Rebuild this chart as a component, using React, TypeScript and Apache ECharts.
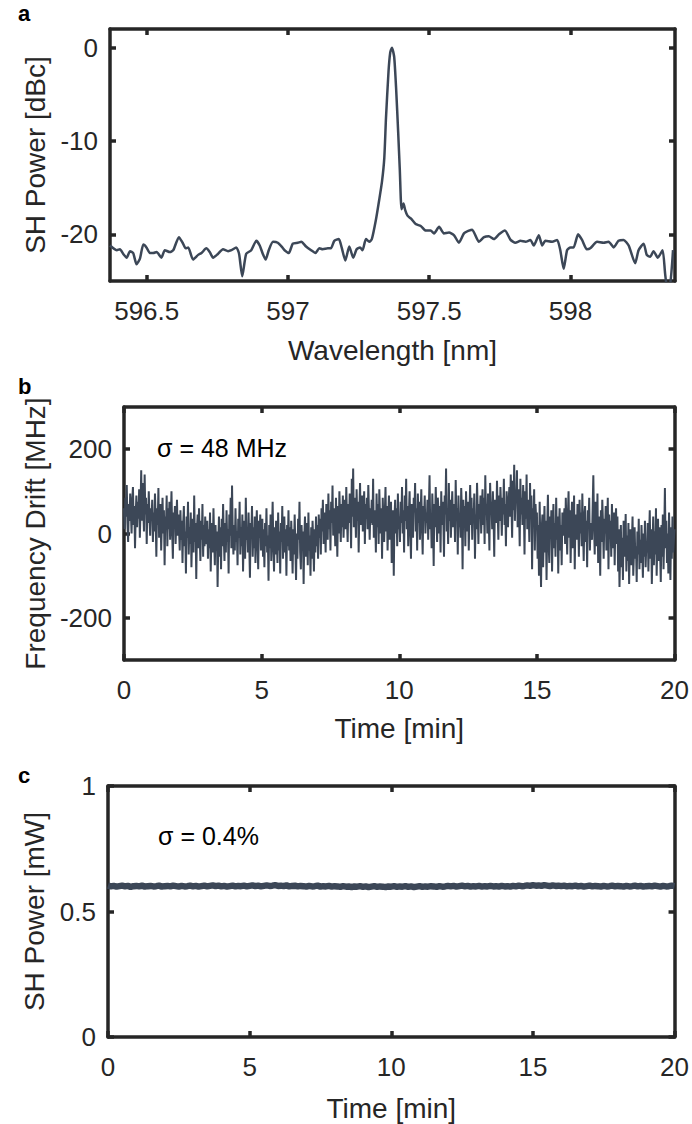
import React, { useEffect, useRef } from "react";
import * as echarts from "echarts";

// ---------- Panel a: SH spectrum ----------
const wavelengthNm = [
  596.370, 596.382, 596.394, 596.405, 596.417, 596.429, 596.441, 596.452, 596.464, 596.476,
  596.488, 596.499, 596.511, 596.523, 596.535, 596.552, 596.564, 596.582, 596.594, 596.614,
  596.627, 596.638, 596.647, 596.664, 596.682, 596.694, 596.711, 596.723, 596.735, 596.752,
  596.770, 596.788, 596.800, 596.817, 596.827, 596.838, 596.852, 596.870, 596.888, 596.900,
  596.911, 596.921, 596.932, 596.947, 596.964, 596.980, 596.988, 597.003, 597.017, 597.035,
  597.047, 597.064, 597.082, 597.097, 597.111, 597.123, 597.141, 597.152, 597.164, 597.180,
  597.190, 597.203, 597.217, 597.231, 597.243, 597.255, 597.264, 597.276, 597.288, 597.297,
  597.311, 597.323, 597.333, 597.341, 597.347, 597.356, 597.362, 597.368, 597.376, 597.383,
  597.390, 597.396, 597.402, 597.409, 597.415, 597.423, 597.435, 597.452, 597.470, 597.488,
  597.505, 597.517, 597.535, 597.552, 597.570, 597.588, 597.605, 597.623, 597.641, 597.652,
  597.676, 597.694, 597.711, 597.729, 597.747, 597.768, 597.788, 597.805, 597.823, 597.841,
  597.858, 597.870, 597.888, 597.900, 597.911, 597.935, 597.953, 597.964, 597.976, 597.988,
  598.000, 598.011, 598.027, 598.041, 598.058, 598.070, 598.094, 598.117, 598.135, 598.153,
  598.170, 598.188, 598.206, 598.229, 598.241, 598.259, 598.270, 598.282, 598.294, 598.309,
  598.326, 598.335, 598.342, 598.353, 598.363,
];
const shPowerDbc = [
  -21.2, -21.5, -21.7, -21.6, -22.1, -22.5, -21.8, -22.0, -23.2, -22.6,
  -21.1, -21.4, -22.0, -22.0, -21.9, -22.5, -21.7, -21.9, -21.7, -20.3,
  -20.9, -21.5, -21.4, -22.7, -22.2, -22.0, -21.5, -21.9, -22.5, -22.1,
  -21.6, -21.8, -21.7, -21.4, -22.1, -24.5, -22.1, -21.7, -20.7, -21.2,
  -22.1, -22.7, -21.7, -20.8, -20.9, -21.4, -21.7, -22.0, -21.0, -20.9,
  -20.8, -21.3, -21.7, -22.0, -21.5, -21.6, -21.5, -21.5, -20.7, -20.5,
  -21.4, -22.8, -21.3, -22.5, -21.6, -21.4, -21.7, -20.5, -20.8, -20.5,
  -18.5, -16.3, -14.3, -11.8, -7.5, -2.5, -0.5, 0.0, -1.0, -4.5,
  -9.0, -13.2, -17.3, -16.7, -17.4, -18.0, -18.3, -18.9, -19.1, -19.6,
  -19.6, -19.9, -19.2, -19.9, -19.8, -20.1, -20.9, -19.9, -19.6, -19.5,
  -20.8, -20.3, -20.2, -20.5, -20.0, -19.6, -20.6, -20.9, -20.7, -20.8,
  -20.6, -21.2, -20.1, -21.2, -20.7, -20.8, -20.6, -21.7, -23.7, -21.7,
  -21.4, -21.4, -20.0, -20.6, -21.6, -21.5, -20.8, -20.9, -20.8, -21.4,
  -20.7, -20.6, -21.2, -23.1, -21.7, -21.0, -22.2, -22.4, -21.8, -22.5,
  -21.7, -24.2, -25.6, -25.3, -21.7,
];
const wavelengthTicks = [596.5, 597, 597.5, 598];
const dbcTicks = [-20, -10, 0];

// ---------- Panel b: frequency drift (sampled every 0.025 min) ----------
const driftStepMin = 0.025;
const frequencyDriftMHz = [
  60, 10, 85, 40, 115, 25, -20, 70, 30, 95, 50, 0, 80, 110, 20, 65, -35, 45, 90, 15,
  75, 35, 105, -10, 55, 150, 30, 120, 60, 5, 140, 45, 85, -25, 70, 25, 100, 40, -5, 60,
  30, 80, -20, 50, 5, 95, 35, -55, 60, 20, 108, -10, 45, 70, -40, 25, 85, 0, 55, -75,
  40, 15, 90, -30, 60, 10, 75, -15, 35, 100, 5, -60, 50, 20, 65, -25, 30, 80, -5, 45,
  10, -40, 55, -15, 30, -70, 20, 65, -30, 5, -95, 40, -10, 75, -50, 15, -25, 50, -80, 0,
  35, -45, 90, -20, 25, -108, 10, 45, -35, 60, -5, -65, 30, -15, 70, -55, 20, -30, 40, -10,
  -25, 30, -60, 10, -35, 50, -90, -5, 25, -45, 60, -15, -75, 20, -40, 5, -127, -20, 40, -55,
  15, -85, 35, -30, 70, -10, -65, 25, -45, 55, -20, 10, -95, 45, -5, 85, -35, 114, 0, -50,
  20, -40, 60, -20, 5, -75, 35, -10, 75, -50, 15, -30, 45, -90, 0, 30, -60, 85, -15, 10,
  -45, 50, -25, -105, 25, -5, 65, -55, 15, -35, 40, -70, 5, 55, -20, -85, 30, -10, 45, -40,
  -15, 35, -55, 10, -80, 25, -30, 60, -45, -5, -112, 20, -35, 45, -65, 0, 75, -25, -90, 15,
  -50, 30, -10, -70, 50, -40, 5, -95, 25, -20, 65, -60, -5, 40, -45, 10, -100, 20, -30, 55,
  -40, 15, -65, 30, -20, -95, 10, -50, 45, -30, -110, 0, -60, 35, -15, 75, -45, -85, 20, -35,
  5, -120, -10, 40, -55, -25, 25, -75, 50, -40, -5, -100, 15, -60, 30, -20, -90, 10, -45, 40,
  -30, 20, -60, 45, -10, 35, -50, 60, 5, 80, -25, 50, 15, -45, 70, 30, -15, 95, 10, 55,
  -40, 75, 25, 114, -5, 60, 35, -30, 85, 20, -55, 65, 0, 100, 40, -20, 70, 15, 90, -10,
  45, 80, 10, 110, 35, -20, 70, 25, 95, 55, -35, 130, 40, 154, 15, 85, 60, -10, 105, 30,
  75, -45, 50, 120, 20, 65, 90, 5, 45, 100, -25, 70, 35, 85, 10, 115, 50, -15, 60, 25,
  80, 20, 130, -10, 55, 35, -45, 95, 15, 70, -25, 105, 40, 0, 60, -60, 85, 25, -20, 50,
  110, 5, 65, -40, 30, 90, -15, 45, 75, -70, 20, 55, -100, 35, 80, 0, 60, -30, 95, 10,
  40, -20, 75, 25, 110, 0, 55, -45, 90, 30, 130, 10, 65, -30, 45, 100, 15, -60, 70, 35,
  -10, 85, 50, 120, 5, 60, -40, 95, 25, 75, -15, 40, 105, 20, -50, 65, 30, 90, 0, 50,
  25, 80, -15, 60, 138, 10, 45, -35, 95, 30, -77, 70, 15, 110, 40, -20, 85, 55, 0, 65,
  -45, 100, 20, 75, 35, -55, 90, 45, 154, 5, 60, -25, 120, 30, 80, -10, 50, 100, 15, 40,
  70, -20, 127, 35, 60, -50, 90, 15, 45, -10, 108, 55, -85, 80, 25, 65, -30, 100, 40, 5,
  75, -40, 50, 115, 20, 85, -15, 60, 30, 95, -60, 45, 10, 120, 55, -25, 70, 35, 90, 0,
  60, 105, 20, 85, -25, 138, 45, 70, 0, 95, 35, -40, 120, 55, 75, 10, 100, 40, -55, 80,
  65, 25, 125, 50, -15, 90, 30, 110, 60, -5, 85, 45, 130, 20, 70, -30, 100, 55, 15, 80,
  110, 40, 140, 70, -10, 125, 55, 163, 30, 95, 75, 150, 15, 105, 60, -30, 130, 45, 85, 20,
  115, 65, -50, 100, 35, 140, 10, 80, 55, -20, 120, 40, 90, -85, 60, 25, 105, -40, 70, 30,
  50, -60, 20, -100, 75, -30, -127, 10, 45, -80, 0, 65, -45, 30, -110, 15, 92, -20, -70, 40,
  -10, 55, -90, 5, 70, -35, 25, -55, 85, -15, 40, -95, 10, 60, -40, 20, -75, 50, -5, 30,
  60, -25, 85, 15, -50, 40, 100, -10, 55, -70, 25, 75, -35, 5, 90, -85, 45, 20, -15, 70,
  35, -55, 80, 0, 50, -30, 95, 10, -65, 40, 65, -20, 30, -80, 55, 15, 85, -40, 25, 5,
  -15, 60, 138, 20, -50, 75, 5, -30, 95, -70, 40, 10, -100, 55, -20, 80, 25, -60, 35, 0,
  65, -40, 15, 85, -85, 45, -10, 30, -55, 70, 5, -35, 50, -75, 20, 60, -25, 40, -90, 10,
  -127, -40, 20, -80, -10, -110, 30, -55, -25, 46, -90, -5, -65, 25, -120, -35, 10, -75, -20, 40,
  -100, -45, 15, -60, -30, -115, 5, -50, 35, -85, -15, -70, 20, -40, -105, 0, -55, 30, -80, -25,
  -45, 25, -90, -10, 55, -60, 10, -120, -30, 40, -75, 5, -50, 60, -100, -20, 35, -65, 15, -40,
  -115, 20, -55, 45, -85, -5, 108, -35, 30, -70, 0, -95, 50, -25, -110, 15, -60, 40, -45, -15,
  10,
];
const driftTicks = [-200, 0, 200];

// ---------- Panel c: SH power (sampled every 0.1 min) ----------
const powerStepMin = 0.1;
const shPowerMw = [
  0.603, 0.600, 0.602, 0.599, 0.601, 0.603, 0.600, 0.602, 0.598, 0.601, 0.602, 0.600, 0.603, 0.599, 0.601, 0.602, 0.600, 0.601, 0.603, 0.599, 0.601,
  0.602, 0.600, 0.603, 0.601, 0.599, 0.602, 0.600, 0.601, 0.603, 0.600, 0.602, 0.599, 0.601, 0.603, 0.600, 0.602, 0.604, 0.601, 0.603, 0.600,
  0.602, 0.599, 0.601, 0.603, 0.600, 0.602, 0.601, 0.603, 0.600, 0.602, 0.604, 0.601, 0.603, 0.600, 0.602, 0.604, 0.602, 0.603, 0.605, 0.602,
  0.603, 0.601, 0.604, 0.600, 0.602, 0.603, 0.600, 0.602, 0.601, 0.599, 0.602, 0.600, 0.601, 0.603, 0.599, 0.601, 0.600, 0.602, 0.599, 0.601,
  0.600, 0.598, 0.601, 0.599, 0.600, 0.597, 0.600, 0.599, 0.601, 0.598, 0.600, 0.597, 0.599, 0.601, 0.598, 0.600, 0.599, 0.597, 0.600, 0.599,
  0.601, 0.598, 0.600, 0.599, 0.601, 0.598, 0.600, 0.597, 0.599, 0.601, 0.598, 0.600, 0.599, 0.601, 0.600, 0.598, 0.601, 0.599, 0.600, 0.602,
  0.600, 0.602, 0.599, 0.601, 0.603, 0.600, 0.602, 0.599, 0.601, 0.600, 0.602, 0.599, 0.601, 0.600, 0.602, 0.600, 0.601, 0.599, 0.602, 0.600,
  0.601, 0.599, 0.602, 0.600, 0.603, 0.601, 0.602, 0.604, 0.602, 0.605, 0.603, 0.604, 0.602, 0.605, 0.603, 0.601, 0.604, 0.602, 0.603, 0.601,
  0.603, 0.600, 0.602, 0.601, 0.603, 0.600, 0.602, 0.599, 0.601, 0.603, 0.600, 0.602, 0.601, 0.599, 0.602, 0.600, 0.601, 0.603, 0.600, 0.602,
  0.601, 0.599, 0.602, 0.600, 0.601, 0.603, 0.600, 0.602, 0.599, 0.601, 0.602, 0.600, 0.603, 0.601, 0.599, 0.602, 0.600, 0.601, 0.603, 0.601,
];

const LINE = "#3c4757";
const FRAME = "#262626";
const FONT = "'Liberation Sans', Arial, Helvetica, sans-serif";

export default function App() {
  const ref = useRef<HTMLDivElement>(null);

  useEffect(() => {
    if (!ref.current) return;
    const chart = echarts.init(ref.current, null, { renderer: "svg" });

    const frameLine = { show: true, onZero: false, lineStyle: { color: FRAME, width: 3.5 } };
    const tick = (vals?: number[]) => ({
      show: true,
      inside: true,
      length: 6,
      lineStyle: { color: FRAME, width: 3.5 },
      ...(vals ? { customValues: vals } : {}),
    });
    const label = (margin: number, vals?: number[]) => ({
      show: true,
      color: FRAME,
      fontSize: 26,
      fontFamily: FONT,
      margin,
      ...(vals ? { customValues: vals } : {}),
    });
    const nameStyle = { color: FRAME, fontSize: 28, fontFamily: FONT };

    const grids = [
      { left: 110, top: 29, width: 565, height: 252 },
      { left: 124, top: 407, width: 551, height: 253 },
      { left: 108, top: 786, width: 567, height: 251 },
    ];

    const xAxes: any[] = [];
    const yAxes: any[] = [];
    const specs = [
      {
        xmin: 596.37, xmax: 598.37, xticks: wavelengthTicks, xint: undefined,
        ymin: -25, ymax: 2, yticks: dbcTicks, yint: undefined,
        xname: "Wavelength [nm]", yname: "SH Power [dBc]", xGap: 55, yGap: 61, xMargin: 17, yMargin: 12,
      },
      {
        xmin: 0, xmax: 20, xticks: undefined, xint: 5,
        ymin: -300, ymax: 300, yticks: driftTicks, yint: undefined,
        xname: "Time [min]", yname: "Frequency Drift [MHz]", xGap: 54, yGap: 74, xMargin: 17, yMargin: 12,
      },
      {
        xmin: 0, xmax: 20, xticks: undefined, xint: 5,
        ymin: 0, ymax: 1, yticks: undefined, yint: 0.5,
        xname: "Time [min]", yname: "SH Power [mW]", xGap: 57, yGap: 59, xMargin: 17, yMargin: 12,
      },
    ];

    specs.forEach((s, i) => {
      xAxes.push({
        type: "value", gridIndex: i, position: "bottom", min: s.xmin, max: s.xmax,
        ...(s.xint ? { interval: s.xint } : {}),
        axisLine: frameLine, axisTick: tick(s.xticks), axisLabel: label(s.xMargin, s.xticks),
        splitLine: { show: false },
        name: s.xname, nameLocation: "middle", nameGap: s.xGap, nameTextStyle: nameStyle,
      });
      xAxes.push({
        type: "value", gridIndex: i, position: "top", min: s.xmin, max: s.xmax,
        ...(s.xint ? { interval: s.xint } : {}),
        axisLine: frameLine, axisTick: tick(s.xticks), axisLabel: { show: false, ...(s.xticks ? { customValues: s.xticks } : {}) },
        splitLine: { show: false },
      });
      yAxes.push({
        type: "value", gridIndex: i, position: "left", min: s.ymin, max: s.ymax,
        ...(s.yint ? { interval: s.yint } : {}),
        axisLine: frameLine, axisTick: tick(s.yticks), axisLabel: label(s.yMargin, s.yticks),
        splitLine: { show: false },
        name: s.yname, nameLocation: "middle", nameGap: s.yGap, nameTextStyle: nameStyle,
      });
      yAxes.push({
        type: "value", gridIndex: i, position: "right", min: s.ymin, max: s.ymax,
        ...(s.yint ? { interval: s.yint } : {}),
        axisLine: frameLine, axisTick: tick(s.yticks), axisLabel: { show: false, ...(s.yticks ? { customValues: s.yticks } : {}) },
        splitLine: { show: false },
      });
    });

    const spectrum = wavelengthNm.map((w, k) => [w, shPowerDbc[k]]);
    const drift = frequencyDriftMHz.map((v, k) => [k * driftStepMin, v]);
    const power = shPowerMw.map((v, k) => [k * powerStepMin, v]);

    const option: any = {
      animation: false,
      backgroundColor: "#ffffff",
      grid: grids,
      xAxis: xAxes,
      yAxis: yAxes,
      series: [
        {
          type: "line", xAxisIndex: 0, yAxisIndex: 0, data: spectrum, showSymbol: false,
          lineStyle: { color: LINE, width: 2.5 }, smooth: 0.2, clip: true,
        },
        {
          type: "line", xAxisIndex: 2, yAxisIndex: 2, data: drift, showSymbol: false,
          lineStyle: { color: LINE, width: 2 }, clip: true,
        },
        {
          type: "line", xAxisIndex: 4, yAxisIndex: 4, data: power, showSymbol: false,
          lineStyle: { color: LINE, width: 6.5 }, clip: true,
        },
      ],
      graphic: [
        { type: "text", left: 18, top: 2, style: { text: "a", fontSize: 22, fontWeight: "bold", fontFamily: FONT, fill: "#000" } },
        { type: "text", left: 18, top: 375, style: { text: "b", fontSize: 22, fontWeight: "bold", fontFamily: FONT, fill: "#000" } },
        { type: "text", left: 18, top: 764, style: { text: "c", fontSize: 22, fontWeight: "bold", fontFamily: FONT, fill: "#000" } },
        { type: "text", left: 157, top: 435, style: { text: "σ = 48 MHz", fontSize: 25, fontFamily: FONT, fill: "#000" } },
        { type: "text", left: 158, top: 823, style: { text: "σ = 0.4%", fontSize: 25, fontFamily: FONT, fill: "#000" } },
      ],
    };

    chart.setOption(option);
    return () => chart.dispose();
  }, []);

  return (
    <div
      ref={ref}
      style={{ position: "absolute", left: 0, top: 0, width: 692, height: 1124, background: "#fff" }}
    />
  );
}
